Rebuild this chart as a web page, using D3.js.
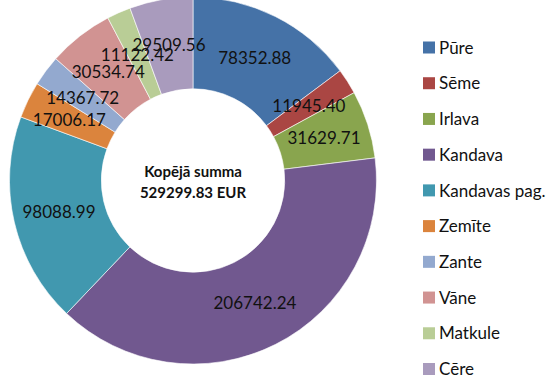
<!DOCTYPE html>
<html>
<head>
<meta charset="utf-8">
<script src="https://cdn.jsdelivr.net/npm/d3@7/dist/d3.min.js"></script>
<style>
  html, body { margin: 0; padding: 0; background: #fff; }
  svg { display: block; }
  text { font-family: Lato, "Noto Sans", sans-serif; fill: #111; }
</style>
</head>
<body>
<svg id="chart" width="550" height="377"></svg>
<script>
// Budget split by parish (EUR)
const categories = ["Pūre", "Sēme", "Irlava", "Kandava", "Kandavas pag.", "Zemīte", "Zante", "Vāne", "Matkule", "Cēre"];
const values = [78352.88, 11945.40, 31629.71, 206742.24, 98088.99, 17006.17, 14367.72, 30534.74, 11122.42, 29509.56];
const colors = ["#4572A7", "#AA4643", "#89A54E", "#71588F", "#4198AF", "#DB843D", "#93A9CF", "#D19392", "#B9CD96", "#A99BBD"];
const centerTitle = "Kopējā summa";
const currency = "EUR";

const svg = d3.select("#chart");
const cx = 193, cy = 180.5;
const outerR = 183.5, innerR = 91.7;

const data = categories.map((name, i) => ({ name, value: values[i], color: colors[i] }));
const total = d3.sum(values);

const pie = d3.pie().value(d => d.value).sort(null);
const arc = d3.arc().innerRadius(innerR).outerRadius(outerR);

const g = svg.append("g").attr("transform", `translate(${cx},${cy})`);
const arcs = pie(data);

g.selectAll("path.slice")
  .data(arcs)
  .enter().append("path")
  .attr("class", "slice")
  .attr("d", arc)
  .attr("fill", d => d.data.color)
  .attr("stroke", "#fff")
  .attr("stroke-width", 0.6);

g.selectAll("text.val")
  .data(arcs)
  .enter().append("text")
  .attr("class", "val")
  .attr("transform", d => `translate(${arc.centroid(d)})`)
  .attr("text-anchor", "middle")
  .attr("dy", "0.36em")
  .style("font-size", "17px")
  .text(d => d.data.value.toFixed(2));

// Total in the hole
g.append("text")
  .attr("text-anchor", "middle")
  .attr("y", -9)
  .attr("dy", "0.36em")
  .style("font-size", "15px")
  .style("font-weight", "bold")
  .text(centerTitle);
g.append("text")
  .attr("text-anchor", "middle")
  .attr("y", 12)
  .attr("dy", "0.36em")
  .style("font-size", "15px")
  .style("font-weight", "bold")
  .text(`${total.toFixed(2)} ${currency}`);

// Legend
const legendY = d3.scalePoint().domain(categories).range([47.5, 369]);
const legend = svg.append("g");
const items = legend.selectAll("g.item")
  .data(data)
  .enter().append("g")
  .attr("class", "item")
  .attr("transform", d => `translate(423,${legendY(d.name)})`);
items.append("rect")
  .attr("x", 0).attr("y", -6)
  .attr("width", 12).attr("height", 12)
  .attr("fill", d => d.color);
items.append("text")
  .attr("x", 16)
  .attr("dy", "0.36em")
  .style("font-size", "17px")
  .text(d => d.name);
</script>
</body>
</html>
